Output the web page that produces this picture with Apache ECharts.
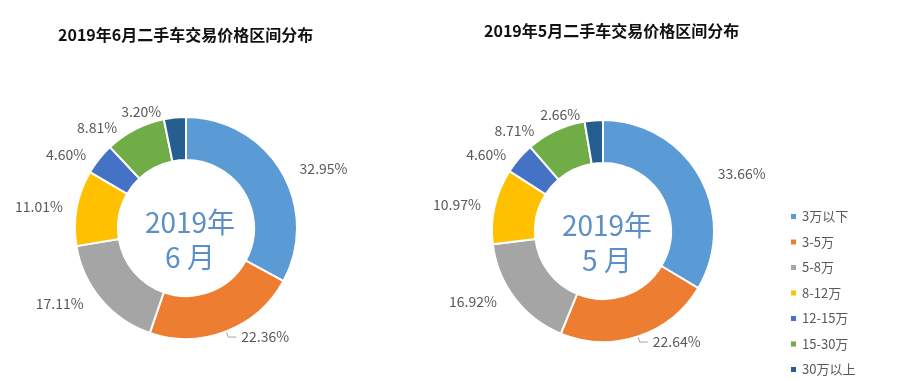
<!DOCTYPE html>
<html><head><meta charset="utf-8">
<script src="https://cdn.jsdelivr.net/npm/echarts@6/dist/echarts.min.js"></script>
<style>html,body{margin:0;padding:0;background:#fff}#c{width:899px;height:382px}</style>
</head><body><div id="c"></div>
<script>
const categories = ['3万以下','3-5万','5-8万','8-12万','12-15万','15-30万','30万以上'];
const juneValues = [32.95, 22.36, 17.11, 11.01, 4.60, 8.81, 3.20];
const mayValues  = [33.66, 22.64, 16.92, 10.97, 4.60, 8.71, 2.66];
const titles = ['2019年6月二手车交易价格区间分布', '2019年5月二手车交易价格区间分布'];
const centerTexts = ['2019年\n6 月', '2019年\n5 月'];
const colors = ['#5B9BD5','#ED7D31','#A5A5A5','#FFC000','#4472C4','#70AD47','#255E91'];
const FONT = '"Noto Sans CJK SC", "Noto Sans", sans-serif';

function mkData(vals){
  return vals.map((v,i)=>({name:categories[i], value:v,
    labelLine:{show: i===1}}));
}
function mkSeries(vals, center){
  return {
    type:'pie', radius:[68,111], center:center, startAngle:90, clockwise:true,
    avoidLabelOverlap:true,
    itemStyle:{borderColor:'#fff', borderWidth:2},
    label:{show:true, position:'outside', formatter:p=>p.value.toFixed(2)+'%',
      color:'#595959', fontSize:14, fontFamily:FONT},
    labelLine:{length:6, length2:8, lineStyle:{color:'#A5A5A5', width:1}},
    emphasis:{disabled:true},
    data: mkData(vals)
  };
}
const chart = echarts.init(document.getElementById('c'));
chart.setOption({
  animation:false,
  color: colors,
  title:[
    {text:titles[0], left:53, top:22, textStyle:{fontSize:16, fontWeight:'bold', color:'#111', fontFamily:FONT}},
    {text:titles[1], left:479, top:18, textStyle:{fontSize:16, fontWeight:'bold', color:'#111', fontFamily:FONT}},
    {text:centerTexts[0], left:185, top:200, textAlign:'center', textStyle:{fontSize:28, fontWeight:'normal', color:'#5B8FC6', lineHeight:35, fontFamily:FONT}},
    {text:centerTexts[1], left:602, top:203, textAlign:'center', textStyle:{fontSize:28, fontWeight:'normal', color:'#5B8FC6', lineHeight:35, fontFamily:FONT}}
  ],
  legend:{orient:'vertical', left:789, top:210, padding:0, itemWidth:7, itemHeight:7, itemGap:12.5,
    icon:'rect', textStyle:{color:'#595959', fontSize:13, fontFamily:FONT}, data:categories},
  series:[ mkSeries(juneValues,[186,228]), mkSeries(mayValues,[603,231]) ]
});
</script></body></html>
